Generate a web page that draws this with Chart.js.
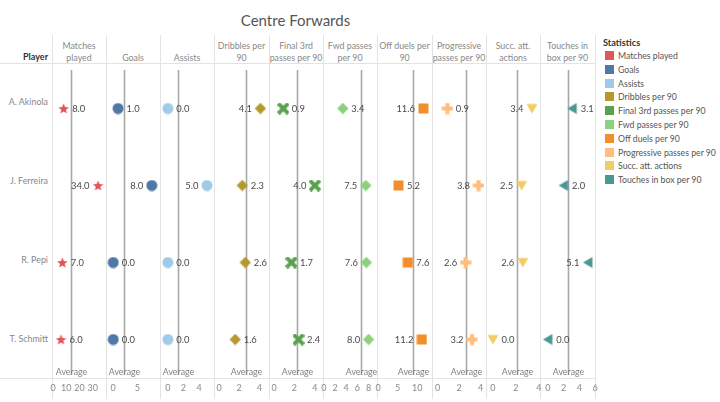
<!DOCTYPE html>
<html><head><meta charset="utf-8">
<script src="https://cdn.jsdelivr.net/npm/chart.js@4/dist/chart.umd.min.js"></script>
<style>
html,body{margin:0;padding:0;background:#fff}
body{width:720px;height:402px;overflow:hidden;position:relative;font-family:Lato,"Noto Sans",sans-serif}
.abs{position:absolute}
.vline{position:absolute;width:1px;background:#e3e3e3}
.hline{position:absolute;height:1px;background:#e3e3e3}
.hdr{position:absolute;top:35px;height:29px;display:flex;flex-direction:column;justify-content:flex-end;align-items:center;text-align:center;color:#888;font-size:8.8px;line-height:12px;white-space:nowrap}
.row{position:absolute;right:672px;color:#888;font-size:8.9px;line-height:12px;white-space:nowrap;text-align:right}
.leg{position:absolute;left:605px;font-size:8.7px;color:#555;line-height:12px;white-space:nowrap}
.sw{display:inline-block;width:9px;height:9px;vertical-align:-1px;margin-right:4px}
canvas{position:absolute}
</style></head><body>
<script>
// ---------- data ----------
const chartTitle = "Centre Forwards";
const players = ["A. Akinola", "J. Ferreira", "R. Pepi", "T. Schmitt"];
const statistics = ["Matches played", "Goals", "Assists", "Dribbles per 90", "Final 3rd passes per 90",
  "Fwd passes per 90", "Off duels per 90", "Progressive passes per 90", "Succ. att. actions", "Touches in box per 90"];
const columnHeaders = [["Matches", "played"], ["Goals"], ["Assists"], ["Dribbles per", "90"], ["Final 3rd", "passes per 90"],
  ["Fwd passes", "per 90"], ["Off duels per", "90"], ["Progressive", "passes per 90"], ["Succ. att.", "actions"], ["Touches in", "box per 90"]];
const matchesPlayed = [8.0, 34.0, 7.0, 6.0];
const goals = [1.0, 8.0, 0.0, 0.0];
const assists = [0.0, 5.0, 0.0, 0.0];
const dribblesPer90 = [4.1, 2.3, 2.6, 1.6];
const final3rdPassesPer90 = [0.9, 4.0, 1.7, 2.4];
const fwdPassesPer90 = [3.4, 7.5, 7.6, 8.0];
const offDuelsPer90 = [11.6, 5.2, 7.6, 11.2];
const progressivePassesPer90 = [0.9, 3.8, 2.6, 3.2];
const succAttActions = [3.4, 2.5, 2.6, 0.0];
const touchesInBoxPer90 = [3.1, 2.0, 5.1, 0.0];
const tickLabels = [[0, 10, 20, 30], [0, 5], [0, 2, 4], [0, 2, 4], [0, 2, 4], [0, 2, 4, 6, 8], [0, 5, 10], [0, 2, 4], [0, 2, 4], [0, 2, 4, 6]];
const averageLabel = "Average";

// ---------- config / style ----------
const seriesValues = [matchesPlayed, goals, assists, dribblesPer90, final3rdPassesPer90,
  fwdPassesPer90, offDuelsPer90, progressivePassesPer90, succAttActions, touchesInBoxPer90];
const colors = ["#e15759", "#4e79a7", "#a0cbe8", "#b6992d", "#59a14f", "#8cd17d", "#f28e2b", "#ffbe7d", "#f1ce63", "#499894"];
const shapes = ["star", "circle", "circle", "diamond", "cross", "diamond", "square", "plus", "triDown", "triLeft"];
const axisDomains = [[-0.8, 40], [-1.5, 9.7], [-1, 5.9], [-0.5, 4.95], [-0.5, 4.8], [-0.15, 9.5], [-0.3, 13.8], [-0.53, 4.5], [-0.6, 4.1], [-1, 6.0]];
const edges = [52, 106, 160, 214, 269, 323, 377, 432, 486, 540, 595];
const TOP = 63, AXIS_TOP = 378, BOTTOM = 402;

function el(cls, style, html) {
  const d = document.createElement('div');
  d.className = cls; Object.assign(d.style, style); if (html !== undefined) d.innerHTML = html;
  document.body.appendChild(d); return d;
}

// title
el('abs', {left: '0px', width: '591px', top: '10px', textAlign: 'center', fontSize: '15px', color: '#555', lineHeight: '20px'}, chartTitle);
// frame lines
el('hline', {left: '0px', width: '595px', top: TOP + 'px'});
el('hline', {left: '0px', width: '595px', top: AXIS_TOP + 'px'});
edges.forEach(x => el('vline', {left: x + 'px', top: '35px', height: '364px'}));
// player header and rows
el('abs', {left: '0px', width: '48px', top: '51px', textAlign: 'right', fontSize: '9px', fontWeight: 'bold', color: '#333', lineHeight: '12px'}, 'Player');
players.forEach((p, i) => {
  const c = TOP + (AXIS_TOP - TOP) * (i + 0.5) / players.length;
  el('row', {top: (c - 6) + 'px'}, p);
});
// column headers
columnHeaders.forEach((h, i) => {
  el('hdr', {left: edges[i] + 'px', width: (edges[i + 1] - edges[i]) + 'px'}, h.map(s => '<div>' + s + '</div>').join(''));
});
// legend
el('abs', {left: '603px', top: '37px', fontSize: '9.2px', fontWeight: 'bold', color: '#333', lineHeight: '12px'}, 'Statistics');
statistics.forEach((s, i) => {
  el('leg', {top: (50 + i * 13.8) + 'px'}, '<span class="sw" style="background:' + colors[i] + '"></span>' + s);
});

// ---------- markers ----------
function makeMarker(shape, color) {
  const size = shape === 'square' ? 11 : (shape === 'star' ? 11 : 12);
  const c = document.createElement('canvas');
  c.width = size; c.height = size;
  const g = c.getContext('2d');
  g.fillStyle = color;
  const m = size / 2;
  g.beginPath();
  if (shape === 'star') {
    for (let k = 0; k < 10; k++) {
      const r = k % 2 === 0 ? m : m * 0.45;
      const a = -Math.PI / 2 + k * Math.PI / 5;
      const px = m + r * Math.cos(a), py = m + 0.6 + r * Math.sin(a);
      k === 0 ? g.moveTo(px, py) : g.lineTo(px, py);
    }
    g.closePath();
  } else if (shape === 'circle') {
    g.arc(m, m, m - 0.5, 0, Math.PI * 2);
  } else if (shape === 'diamond') {
    g.moveTo(m, 0.3); g.lineTo(size - 0.3, m); g.lineTo(m, size - 0.3); g.lineTo(0.3, m); g.closePath();
  } else if (shape === 'square') {
    g.rect(0.5, 0.5, size - 1, size - 1);
  } else if (shape === 'triDown') {
    g.moveTo(0.5, 1.5); g.lineTo(size - 0.5, 1.5); g.lineTo(m, size - 1); g.closePath();
  } else if (shape === 'triLeft') {
    g.moveTo(1, m); g.lineTo(size - 1.5, 0.5); g.lineTo(size - 1.5, size - 0.5); g.closePath();
  } else if (shape === 'plus') {
    const t = 4.2;
    g.rect(m - t / 2, 0.5, t, size - 1); g.rect(0.5, m - t / 2, size - 1, t);
  } else if (shape === 'cross') {
    g.translate(m, m); g.rotate(Math.PI / 4);
    const t = 4, L = 7;
    g.rect(-t / 2, -L, t, 2 * L); g.rect(-L, -t / 2, 2 * L, t);
  }
  g.fill();
  return c;
}

// ---------- plugins ----------
const averagePlugin = {
  id: 'averageLine',
  beforeDatasetsDraw(chart) {
    const vals = chart.data.datasets[0].data.map(d => d.x);
    const avg = vals.reduce((a, b) => a + b, 0) / vals.length;
    const x = Math.round(chart.scales.x.getPixelForValue(avg)) + 0.5;
    const {top, bottom} = chart.chartArea;
    const g = chart.ctx;
    g.save();
    g.strokeStyle = '#a8a8a8'; g.lineWidth = 1.6;
    g.beginPath(); g.moveTo(x, top); g.lineTo(x, bottom - 3); g.stroke();
    g.fillStyle = '#808080'; g.font = '8.8px Lato, sans-serif';
    g.textAlign = 'center'; g.textBaseline = 'middle';
    g.fillText(averageLabel, x, bottom - 6);
    g.restore();
  }
};
const valueLabelPlugin = {
  id: 'valueLabels',
  afterDatasetsDraw(chart) {
    const g = chart.ctx;
    const {left, width} = chart.chartArea;
    const meta = chart.getDatasetMeta(0);
    g.save();
    g.fillStyle = '#4a4a4a'; g.font = '9.4px Lato, sans-serif'; g.textBaseline = 'middle';
    meta.data.forEach((pt, i) => {
      const v = chart.data.datasets[0].data[i].x;
      const frac = (pt.x - left) / width;
      const txt = v.toFixed(1);
      if (frac < 0.6) { g.textAlign = 'left'; g.fillText(txt, pt.x + 8.5, pt.y + 0.5); }
      else { g.textAlign = 'right'; g.fillText(txt, pt.x - 8.5, pt.y + 0.5); }
    });
    g.restore();
  }
};

// ---------- charts ----------
const PAD = 14;
seriesValues.forEach((vals, i) => {
  const cv = document.createElement('canvas');
  const w = edges[i + 1] - edges[i] + 2 * PAD;
  cv.width = w; cv.height = BOTTOM - TOP;
  cv.style.left = (edges[i] - PAD) + 'px'; cv.style.top = TOP + 'px';
  cv.style.width = w + 'px'; cv.style.height = (BOTTOM - TOP) + 'px';
  document.body.appendChild(cv);
  const ticks = tickLabels[i];
  new Chart(cv, {
    type: 'scatter',
    data: {
      datasets: [{
        label: statistics[i],
        data: vals.map((v, k) => ({x: v, y: players[k]})),
        pointStyle: makeMarker(shapes[i], colors[i]),
        pointRadius: 6,
        backgroundColor: colors[i]
      }]
    },
    options: {
      responsive: false, animation: false, devicePixelRatio: 1,
      layout: {padding: {left: PAD, right: PAD, top: 0, bottom: 0}},
      plugins: {legend: {display: false}, tooltip: {enabled: false}},
      scales: {
        y: {type: 'category', labels: players, offset: true, display: false},
        x: {
          type: 'linear', position: 'bottom',
          min: axisDomains[i][0], max: axisDomains[i][1],
          grid: {display: false, drawTicks: false},
          border: {display: false},
          afterBuildTicks(scale) { scale.ticks = ticks.map(t => ({value: t})); },
          afterFit(scale) { scale.height = BOTTOM - AXIS_TOP; scale.paddingLeft = 0; scale.paddingRight = 0; },
          ticks: {
            autoSkip: false, maxRotation: 0, minRotation: 0, padding: 5,
            color: '#8a8a8a', font: {family: 'Lato, sans-serif', size: 9},
            callback: v => String(v)
          }
        }
      }
    },
    plugins: [averagePlugin, valueLabelPlugin]
  });
});
</script>
</body></html>
